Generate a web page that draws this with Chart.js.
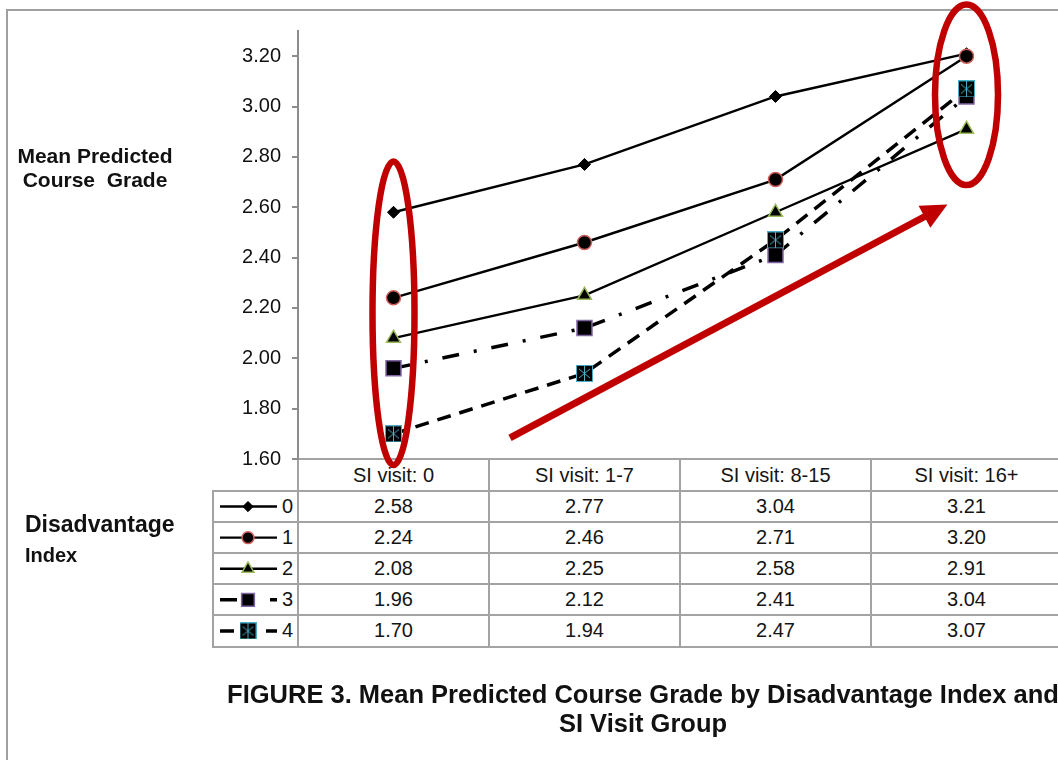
<!DOCTYPE html>
<html><head><meta charset="utf-8">
<script src="https://cdn.jsdelivr.net/npm/chart.js@4/dist/chart.umd.min.js"></script>
<style>
html,body{margin:0;padding:0;width:1058px;height:760px;overflow:hidden;background:#fff;font-family:"Liberation Sans",Arial,sans-serif;color:#111}
#wrap{position:relative;width:1058px;height:760px;overflow:hidden}
canvas{position:absolute;left:0;top:0}
.abs{position:absolute;white-space:nowrap}
.ln{position:absolute;background:#a3a3a3}
.cell{position:absolute;display:flex;align-items:center;justify-content:center;font-size:20px;color:#141414;white-space:nowrap}
.lg{position:absolute;display:flex;align-items:center;justify-content:flex-end;font-size:20px;color:#141414}
</style></head><body><div id="wrap">
<div class="ln" style="left:6px;top:9px;width:2px;height:751px;background:#a0a0a0"></div>
<div class="ln" style="left:6px;top:9px;width:1052px;height:2px;background:#a0a0a0"></div>
<div id="tbl"></div>
<canvas id="c" width="1062" height="760"></canvas>
<div class="abs" style="left:0;width:190px;top:144px;font-size:21px;line-height:24px;font-weight:bold;text-align:center">Mean Predicted<br>Course&nbsp; Grade</div>
<div class="abs" style="left:25px;top:513px;font-size:23px;line-height:23px;font-weight:bold">Disadvantage</div>
<div class="abs" style="left:25px;top:545px;font-size:20px;line-height:20px;font-weight:bold">Index</div>
<div class="abs" style="left:0;width:1286px;top:680px;font-size:25.5px;line-height:29px;font-weight:bold;text-align:center">FIGURE 3. Mean Predicted Course Grade by Disadvantage Index and<br>SI Visit Group</div>
</div>
<script>
// ---- data ----
const categories = ['SI visit: 0', 'SI visit: 1-7', 'SI visit: 8-15', 'SI visit: 16+'];
const seriesNames = ['0', '1', '2', '3', '4'];
const idx0 = [2.58, 2.77, 3.04, 3.21];
const idx1 = [2.24, 2.46, 2.71, 3.20];
const idx2 = [2.08, 2.25, 2.58, 2.91];
const idx3 = [1.96, 2.12, 2.41, 3.04];
const idx4 = [1.70, 1.94, 2.47, 3.07];
const yTicks = [1.6, 1.8, 2.0, 2.2, 2.4, 2.6, 2.8, 3.0, 3.2];

// ---- marker for series 4 ----
function makeStar() {
  const c = document.createElement('canvas');
  c.width = 17; c.height = 17;
  const g = c.getContext('2d');
  g.fillStyle = '#000'; g.fillRect(0, 0, 17, 17);
  g.strokeStyle = '#4bacc6'; g.lineWidth = 1;
  g.strokeRect(0.5, 0.5, 16, 16);
  g.beginPath();
  g.moveTo(8.5, 1); g.lineTo(8.5, 16);
  g.moveTo(3, 4); g.lineTo(14, 13);
  g.moveTo(14, 4); g.lineTo(3, 13);
  g.stroke();
  return c;
}
const starImg = makeStar();

const seriesData = [idx0, idx1, idx2, idx3, idx4];
const styles = [
  {borderWidth: 2.4, borderDash: [], pointStyle: 'rectRot', pointRadius: 6, pointBorderColor: '#000', pointBorderWidth: 1},
  {borderWidth: 2.4, borderDash: [], pointStyle: 'circle', pointRadius: 7, pointBorderColor: '#d0605c', pointBorderWidth: 1.5},
  {borderWidth: 2.4, borderDash: [], pointStyle: 'triangle', pointRadius: 8, pointBorderColor: '#9bbb59', pointBorderWidth: 1.5},
  {borderWidth: 3.5, borderDash: [17, 15, 3, 15], pointStyle: 'rect', pointRadius: 10.6, pointBorderColor: '#8064a2', pointBorderWidth: 1.5},
  {borderWidth: 3.5, borderDash: [14, 9], pointStyle: starImg, pointRadius: 8, pointBorderColor: '#4bacc6', pointBorderWidth: 1}
];

const datasets = seriesNames.map((n, i) => Object.assign({
  label: n, data: seriesData[i], borderColor: '#000', pointBackgroundColor: '#000',
  tension: 0, fill: false, order: seriesNames.length - 1 - i, pointHoverRadius: styles[i].pointRadius
}, styles[i]));

// table geometry
const tableTop = 459, headTop = 491, rowH = 31.1, legendLeft = 213;

const annotate = {
  id: 'annotate',
  afterDraw(chart) {
    const {ctx} = chart;
    const x = chart.scales.x, y = chart.scales.y;
    ctx.save();
    // legend samples in the table
    const H = Chart.helpers;
    datasets.forEach((d, i) => {
      const cy = headTop + rowH * i + rowH / 2;
      ctx.save();
      ctx.strokeStyle = '#000'; ctx.lineWidth = d.borderWidth;
      ctx.setLineDash(d.borderDash);
      ctx.beginPath(); ctx.moveTo(220, cy); ctx.lineTo(277, cy); ctx.stroke();
      ctx.setLineDash([]);
      ctx.fillStyle = '#000'; ctx.strokeStyle = d.pointBorderColor; ctx.lineWidth = d.pointBorderWidth;
      H.drawPoint(ctx, {pointStyle: d.pointStyle, rotation: 0, radius: d.pointRadius * 0.85, borderWidth: d.pointBorderWidth}, 248, cy);
      ctx.restore();
    });
    // red annotations
    ctx.strokeStyle = '#c00000'; ctx.fillStyle = '#c00000';
    ctx.lineWidth = 6.5;
    const e1t = y.getPixelForValue(2.782), e1b = y.getPixelForValue(1.576);
    ctx.beginPath();
    ctx.ellipse(x.getPixelForValue(0), (e1t + e1b) / 2, 21, (e1b - e1t) / 2, 0, 0, Math.PI * 2);
    ctx.stroke();
    const e2t = y.getPixelForValue(3.405), e2b = y.getPixelForValue(2.688);
    ctx.beginPath();
    ctx.ellipse(x.getPixelForValue(3), (e2t + e2b) / 2, 31.5, (e2b - e2t) / 2, 0, 0, Math.PI * 2);
    ctx.stroke();
    // arrow
    const x0 = x.getPixelForValue(0.61), y0 = y.getPixelForValue(1.684);
    const x1 = x.getPixelForValue(2.9), y1 = y.getPixelForValue(2.611);
    const dx = x1 - x0, dy = y1 - y0, L = Math.hypot(dx, dy), ux = dx / L, uy = dy / L;
    const headL = 26, headW = 12.5;
    ctx.lineWidth = 7; ctx.lineCap = 'butt';
    ctx.beginPath(); ctx.moveTo(x0, y0); ctx.lineTo(x1 - ux * (headL - 2), y1 - uy * (headL - 2)); ctx.stroke();
    const bx = x1 - ux * headL, by = y1 - uy * headL;
    ctx.beginPath();
    ctx.moveTo(x1, y1);
    ctx.lineTo(bx - uy * headW, by + ux * headW);
    ctx.lineTo(bx + uy * headW, by - ux * headW);
    ctx.closePath(); ctx.fill();
    ctx.restore();
  }
};

const chart = new Chart(document.getElementById('c').getContext('2d'), {
  type: 'line',
  data: {labels: categories, datasets: datasets},
  options: {
    responsive: false, animation: false, devicePixelRatio: 1,
    layout: {autoPadding: false, padding: {left: 0, top: 31, right: 0, bottom: 301}},
    plugins: {legend: {display: false}, tooltip: {enabled: false}, title: {display: false}},
    scales: {
      x: {type: 'category', display: false, offset: true},
      y: {
        min: 1.6, max: 3.3,
        afterBuildTicks: s => { s.ticks = yTicks.map(v => ({value: v})); },
        afterFit: s => { s.width = 298; },
        ticks: {padding: 11, color: '#111', font: {family: '"Liberation Sans", Arial, sans-serif', size: 20},
                callback: v => Number(v).toFixed(2)},
        grid: {drawOnChartArea: false, drawTicks: true, tickLength: 6, color: '#8c8c8c', lineWidth: 2},
        border: {display: true, color: '#8c8c8c', width: 2}
      }
    }
  },
  plugins: [annotate]
});

// ---- data table (HTML), columns aligned with the x scale ----
(function buildTable() {
  const xs = chart.scales.x;
  const tbl = document.getElementById('tbl');
  const bounds = categories.map((c, i) => xs.getPixelForValue(i - 0.5));
  bounds.push(xs.getPixelForValue(categories.length - 0.5));
  const bottom = headTop + rowH * seriesNames.length;
  let html = '';
  const hline = (y, x0, x1) => `<div class="ln" style="left:${x0}px;top:${y - 1}px;width:${x1 - x0}px;height:2px"></div>`;
  const vline = (x, y0, y1) => `<div class="ln" style="left:${x - 1}px;top:${y0 - 1}px;width:2px;height:${y1 - y0 + 2}px"></div>`;
  html += hline(tableTop, bounds[0] - 1, 1062);
  for (let r = 0; r <= seriesNames.length; r++) html += hline(Math.round(headTop + rowH * r), legendLeft - 1, 1062);
  html += vline(legendLeft, headTop, bottom);
  bounds.forEach(b => { html += vline(Math.round(b), tableTop, bottom); });
  categories.forEach((c, i) => {
    html += `<div class="cell" style="left:${bounds[i]}px;top:${tableTop}px;width:${bounds[i + 1] - bounds[i]}px;height:${headTop - tableTop}px">${c}</div>`;
  });
  seriesNames.forEach((n, r) => {
    const top = headTop + rowH * r;
    html += `<div class="lg" style="left:${legendLeft}px;top:${top}px;width:${bounds[0] - legendLeft - 5}px;height:${rowH}px">${n}</div>`;
    seriesData[r].forEach((v, i) => {
      html += `<div class="cell" style="left:${bounds[i]}px;top:${top}px;width:${bounds[i + 1] - bounds[i]}px;height:${rowH}px">${v.toFixed(2)}</div>`;
    });
  });
  tbl.innerHTML = html;
})();
</script>
</body></html>
